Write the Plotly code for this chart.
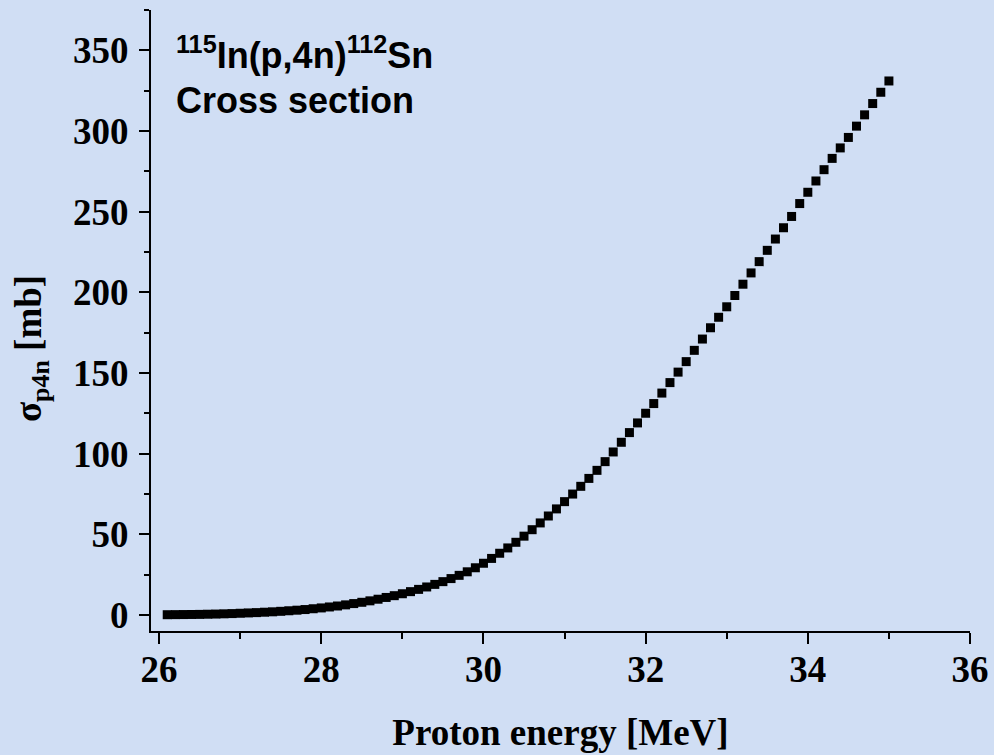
import plotly.graph_objects as go

energy = [26.1, 26.2, 26.3, 26.4, 26.5, 26.6, 26.7, 26.8, 26.9, 27.0,
          27.1, 27.2, 27.3, 27.4, 27.5, 27.6, 27.7, 27.8, 27.9, 28.0,
          28.1, 28.2, 28.3, 28.4, 28.5, 28.6, 28.7, 28.8, 28.9, 29.0,
          29.1, 29.2, 29.3, 29.4, 29.5, 29.6, 29.7, 29.8, 29.9, 30.0,
          30.1, 30.2, 30.3, 30.4, 30.5, 30.6, 30.7, 30.8, 30.9, 31.0,
          31.1, 31.2, 31.3, 31.4, 31.5, 31.6, 31.7, 31.8, 31.9, 32.0,
          32.1, 32.2, 32.3, 32.4, 32.5, 32.6, 32.7, 32.8, 32.9, 33.0,
          33.1, 33.2, 33.3, 33.4, 33.5, 33.6, 33.7, 33.8, 33.9, 34.0,
          34.1, 34.2, 34.3, 34.4, 34.5, 34.6, 34.7, 34.8, 34.9, 35.0]

sigma = [0.1, 0.15, 0.2, 0.25, 0.3, 0.4, 0.5, 0.65, 0.8, 1.0,
         1.2, 1.4, 1.65, 1.9, 2.2, 2.55, 2.9, 3.3, 3.8, 4.3,
         4.9, 5.5, 6.2, 7.0, 7.8, 8.7, 9.7, 10.8, 11.9, 13.1,
         14.4, 15.8, 17.3, 18.9, 20.6, 22.5, 24.5, 26.7, 29.2, 32.0,
         35.0, 38.2, 41.5, 45.0, 48.8, 52.8, 57.0, 61.3, 65.7, 70.2,
         74.9, 79.7, 84.6, 89.6, 95.0, 101.0, 107.0, 113.0, 119.0, 125.0,
         131.0, 137.5, 144.0, 150.5, 157.0, 164.0, 171.0, 178.0, 184.5, 191.0,
         198.0, 205.0, 212.0, 219.0, 226.0, 233.0, 240.0, 247.0, 255.0, 262.0,
         269.0, 276.0, 283.0, 289.5, 296.0, 303.0, 310.0, 317.0, 324.0, 331.0]

x_ticks = [26, 28, 30, 32, 34, 36]
y_ticks = [0, 50, 100, 150, 200, 250, 300, 350]

bg = "rgb(208,222,244)"
serif = "Liberation Serif"
bold_serif = dict(family=serif, size=37, color="black", weight="bold")

fig = go.Figure()
fig.add_trace(go.Scatter(
    x=energy, y=sigma, mode="markers",
    marker=dict(symbol="square", size=9, color="black", line=dict(width=0)),
    showlegend=False,
))

fig.update_layout(
    width=994, height=755,
    margin=dict(l=151, r=24, t=10, b=124, autoexpand=False),
    paper_bgcolor=bg, plot_bgcolor=bg,
    xaxis=dict(
        range=[25.9, 36.0], tickvals=x_ticks, ticks="outside", ticklen=11, tickwidth=2,
        tickcolor="black", showline=True, linecolor="black", linewidth=2,
        showgrid=False, zeroline=False, automargin=False, ticklabelstandoff=-6,
        minor=dict(dtick=1, tick0=26, ticks="outside", ticklen=6, tickwidth=2, tickcolor="black"),
        tickfont=bold_serif,
        title=dict(text="Proton energy [MeV]", standoff=30, font=bold_serif),
    ),
    yaxis=dict(
        range=[-10, 375], tickvals=y_ticks, ticks="outside", ticklen=10, tickwidth=2,
        tickcolor="black", showline=True, linecolor="black", linewidth=2,
        showgrid=False, zeroline=False, automargin=False, ticklabelstandoff=3,
        minor=dict(dtick=25, tick0=0, ticks="outside", ticklen=5, tickwidth=2, tickcolor="black"),
        tickfont=bold_serif,
    ),
    annotations=[
        dict(xref="paper", yref="paper", x=-0.1465, y=0.454, xanchor="center", yanchor="middle",
             textangle=-90, showarrow=False, text="σ<sub>p4n</sub> [mb]", font=bold_serif),
        dict(xref="paper", yref="paper", x=0.028, y=0.9308, xanchor="left", yanchor="middle",
             align="left", showarrow=False,
             text="<sup>115</sup>In(p,4n)<sup>112</sup>Sn",
             font=dict(family="Liberation Sans", size=36, color="black", weight="bold")),
        dict(xref="paper", yref="paper", x=0.028, y=0.8535, xanchor="left", yanchor="middle",
             align="left", showarrow=False,
             text="Cross section",
             font=dict(family="Liberation Sans", size=36, color="black", weight="bold")),
    ],
)

fig.write_html("out.html")
